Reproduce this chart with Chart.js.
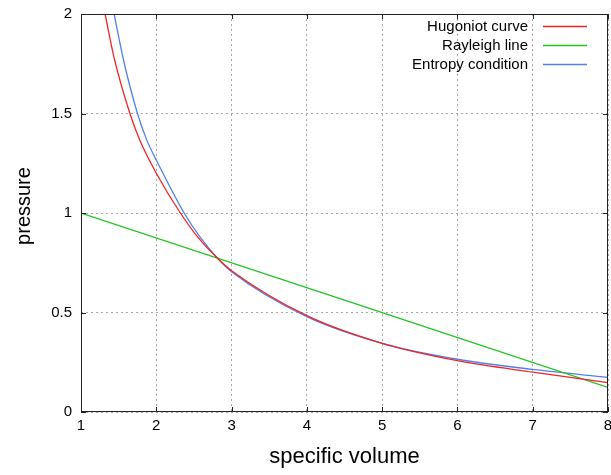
<!DOCTYPE html>
<html>
<head>
<meta charset="utf-8">
<script src="https://cdn.jsdelivr.net/npm/chart.js@4/dist/chart.umd.min.js"></script>
<style>
  html, body { margin: 0; padding: 0; background: #fff; }
  #wrap { width: 611px; height: 475px; }
</style>
</head>
<body>
<div id="wrap"><canvas id="c"></canvas></div>
<script>
// values
const hugoniotX = [1.32, 1.44, 1.65, 1.78, 2.0, 2.32, 2.56, 2.82, 3.0, 4.0, 5.0, 6.0, 7.0, 8.0];
const hugoniotY = [2.0, 1.78, 1.5, 1.367, 1.2, 1.0, 0.875, 0.77, 0.71, 0.484, 0.345, 0.258, 0.2, 0.148];
const rayleighX = [1, 8];
const rayleighY = [1.0, 0.124];
const entropyX = [1.44, 1.57, 1.75, 1.87, 2.0, 2.37, 2.58, 2.82, 3.0, 4.0, 5.0, 6.0, 7.0, 8.0];
const entropyY = [2.0, 1.76, 1.5, 1.37, 1.266, 1.0, 0.88, 0.77, 0.705, 0.479, 0.345, 0.265, 0.214, 0.174];
const seriesNames = ['Hugoniot curve', 'Rayleigh line', 'Entropy condition'];
const seriesColors = ['#f02424', '#22c422', '#5080f0'];
const xTicks = [1, 2, 3, 4, 5, 6, 7, 8];
const yTicks = [0, 0.5, 1, 1.5, 2];

const pts = (xs, ys) => xs.map((x, i) => ({ x: x, y: ys[i] }));
const FONT = '"Liberation Sans", Arial, sans-serif';

// gnuplot-ish frame, inward ticks, axis titles and legend
const frame = {
  id: 'frame',
  afterDraw(chart) {
    const ctx = chart.ctx, a = chart.chartArea;
    const xs = chart.scales.x, ys = chart.scales.y;
    ctx.save();
    ctx.strokeStyle = '#222';
    ctx.lineWidth = 1;
    ctx.strokeRect(Math.round(a.left) + 0.5, Math.round(a.top) + 0.5,
      Math.round(a.right - a.left) - 1, Math.round(a.bottom - a.top) - 1);
    ctx.beginPath();
    xTicks.forEach(v => {
      const p = Math.round(xs.getPixelForValue(v)) + 0.5;
      ctx.moveTo(p, a.bottom); ctx.lineTo(p, a.bottom - 5);
      ctx.moveTo(p, a.top); ctx.lineTo(p, a.top + 5);
    });
    yTicks.forEach(v => {
      const p = Math.round(ys.getPixelForValue(v)) + 0.5;
      ctx.moveTo(a.left, p); ctx.lineTo(a.left + 5, p);
      ctx.moveTo(a.right, p); ctx.lineTo(a.right - 5, p);
    });
    ctx.stroke();

    // axis titles
    ctx.fillStyle = '#000';
    ctx.textAlign = 'center';
    ctx.textBaseline = 'middle';
    ctx.font = '22px ' + FONT;
    ctx.fillText('specific volume', (a.left + a.right) / 2, 457);
    ctx.save();
    ctx.translate(24, 206);
    ctx.rotate(-Math.PI / 2);
    ctx.font = '20px ' + FONT;
    ctx.fillText('pressure', 0, 0);
    ctx.restore();

    // legend: text right aligned, sample line to the right
    ctx.font = '15px ' + FONT;
    ctx.textAlign = 'right';
    chart.data.datasets.forEach((ds, i) => {
      const y = Math.round(a.top + 12 + i * 19) + 0.5;
      ctx.fillStyle = '#000';
      ctx.fillText(ds.label, a.right - 80, y);
      ctx.strokeStyle = seriesColors[i];
      ctx.lineWidth = 1.4;
      ctx.beginPath();
      ctx.moveTo(a.right - 65, y);
      ctx.lineTo(a.right - 21, y);
      ctx.stroke();
    });
    ctx.restore();
  }
};

const lineStyle = {
  showLine: true,
  pointRadius: 0,
  borderWidth: 1.3,
  fill: false,
  cubicInterpolationMode: 'monotone'
};

const noPad = s => { s.paddingLeft = 0; s.paddingRight = 0; s.paddingTop = 0; s.paddingBottom = 0; };

new Chart(document.getElementById('c'), {
  type: 'scatter',
  data: {
    datasets: [
      Object.assign({ label: seriesNames[0], data: pts(hugoniotX, hugoniotY), borderColor: seriesColors[0] }, lineStyle),
      Object.assign({ label: seriesNames[1], data: pts(rayleighX, rayleighY), borderColor: seriesColors[1] }, lineStyle),
      Object.assign({ label: seriesNames[2], data: pts(entropyX, entropyY), borderColor: seriesColors[2] }, lineStyle)
    ]
  },
  options: {
    responsive: true,
    maintainAspectRatio: false,
    animation: false,
    layout: { padding: { left: 0, right: 3, top: 14, bottom: 0 } },
    plugins: { legend: { display: false }, tooltip: { enabled: false } },
    scales: {
      x: {
        type: 'linear',
        min: 1, max: 8,
        afterFit: s => { s.height = 63; noPad(s); },
        afterBuildTicks: s => { s.ticks = xTicks.map(v => ({ value: v })); },
        grid: { color: '#a8a8a8', drawTicks: false, tickLength: 0 },
        border: { display: false, dash: [2, 3] },
        ticks: { color: '#000', padding: 5, maxRotation: 0, font: { family: FONT, size: 15 },
                 callback: v => String(v) }
      },
      y: {
        type: 'linear',
        min: 0, max: 2,
        afterFit: s => { s.width = 81; noPad(s); },
        afterBuildTicks: s => { s.ticks = yTicks.map(v => ({ value: v })); },
        grid: { color: '#a8a8a8', drawTicks: false, tickLength: 0 },
        border: { display: false, dash: [2, 3] },
        ticks: { color: '#000', padding: 9, font: { family: FONT, size: 15 },
                 callback: v => String(v) }
      }
    }
  },
  plugins: [frame]
});
</script>
</body>
</html>
